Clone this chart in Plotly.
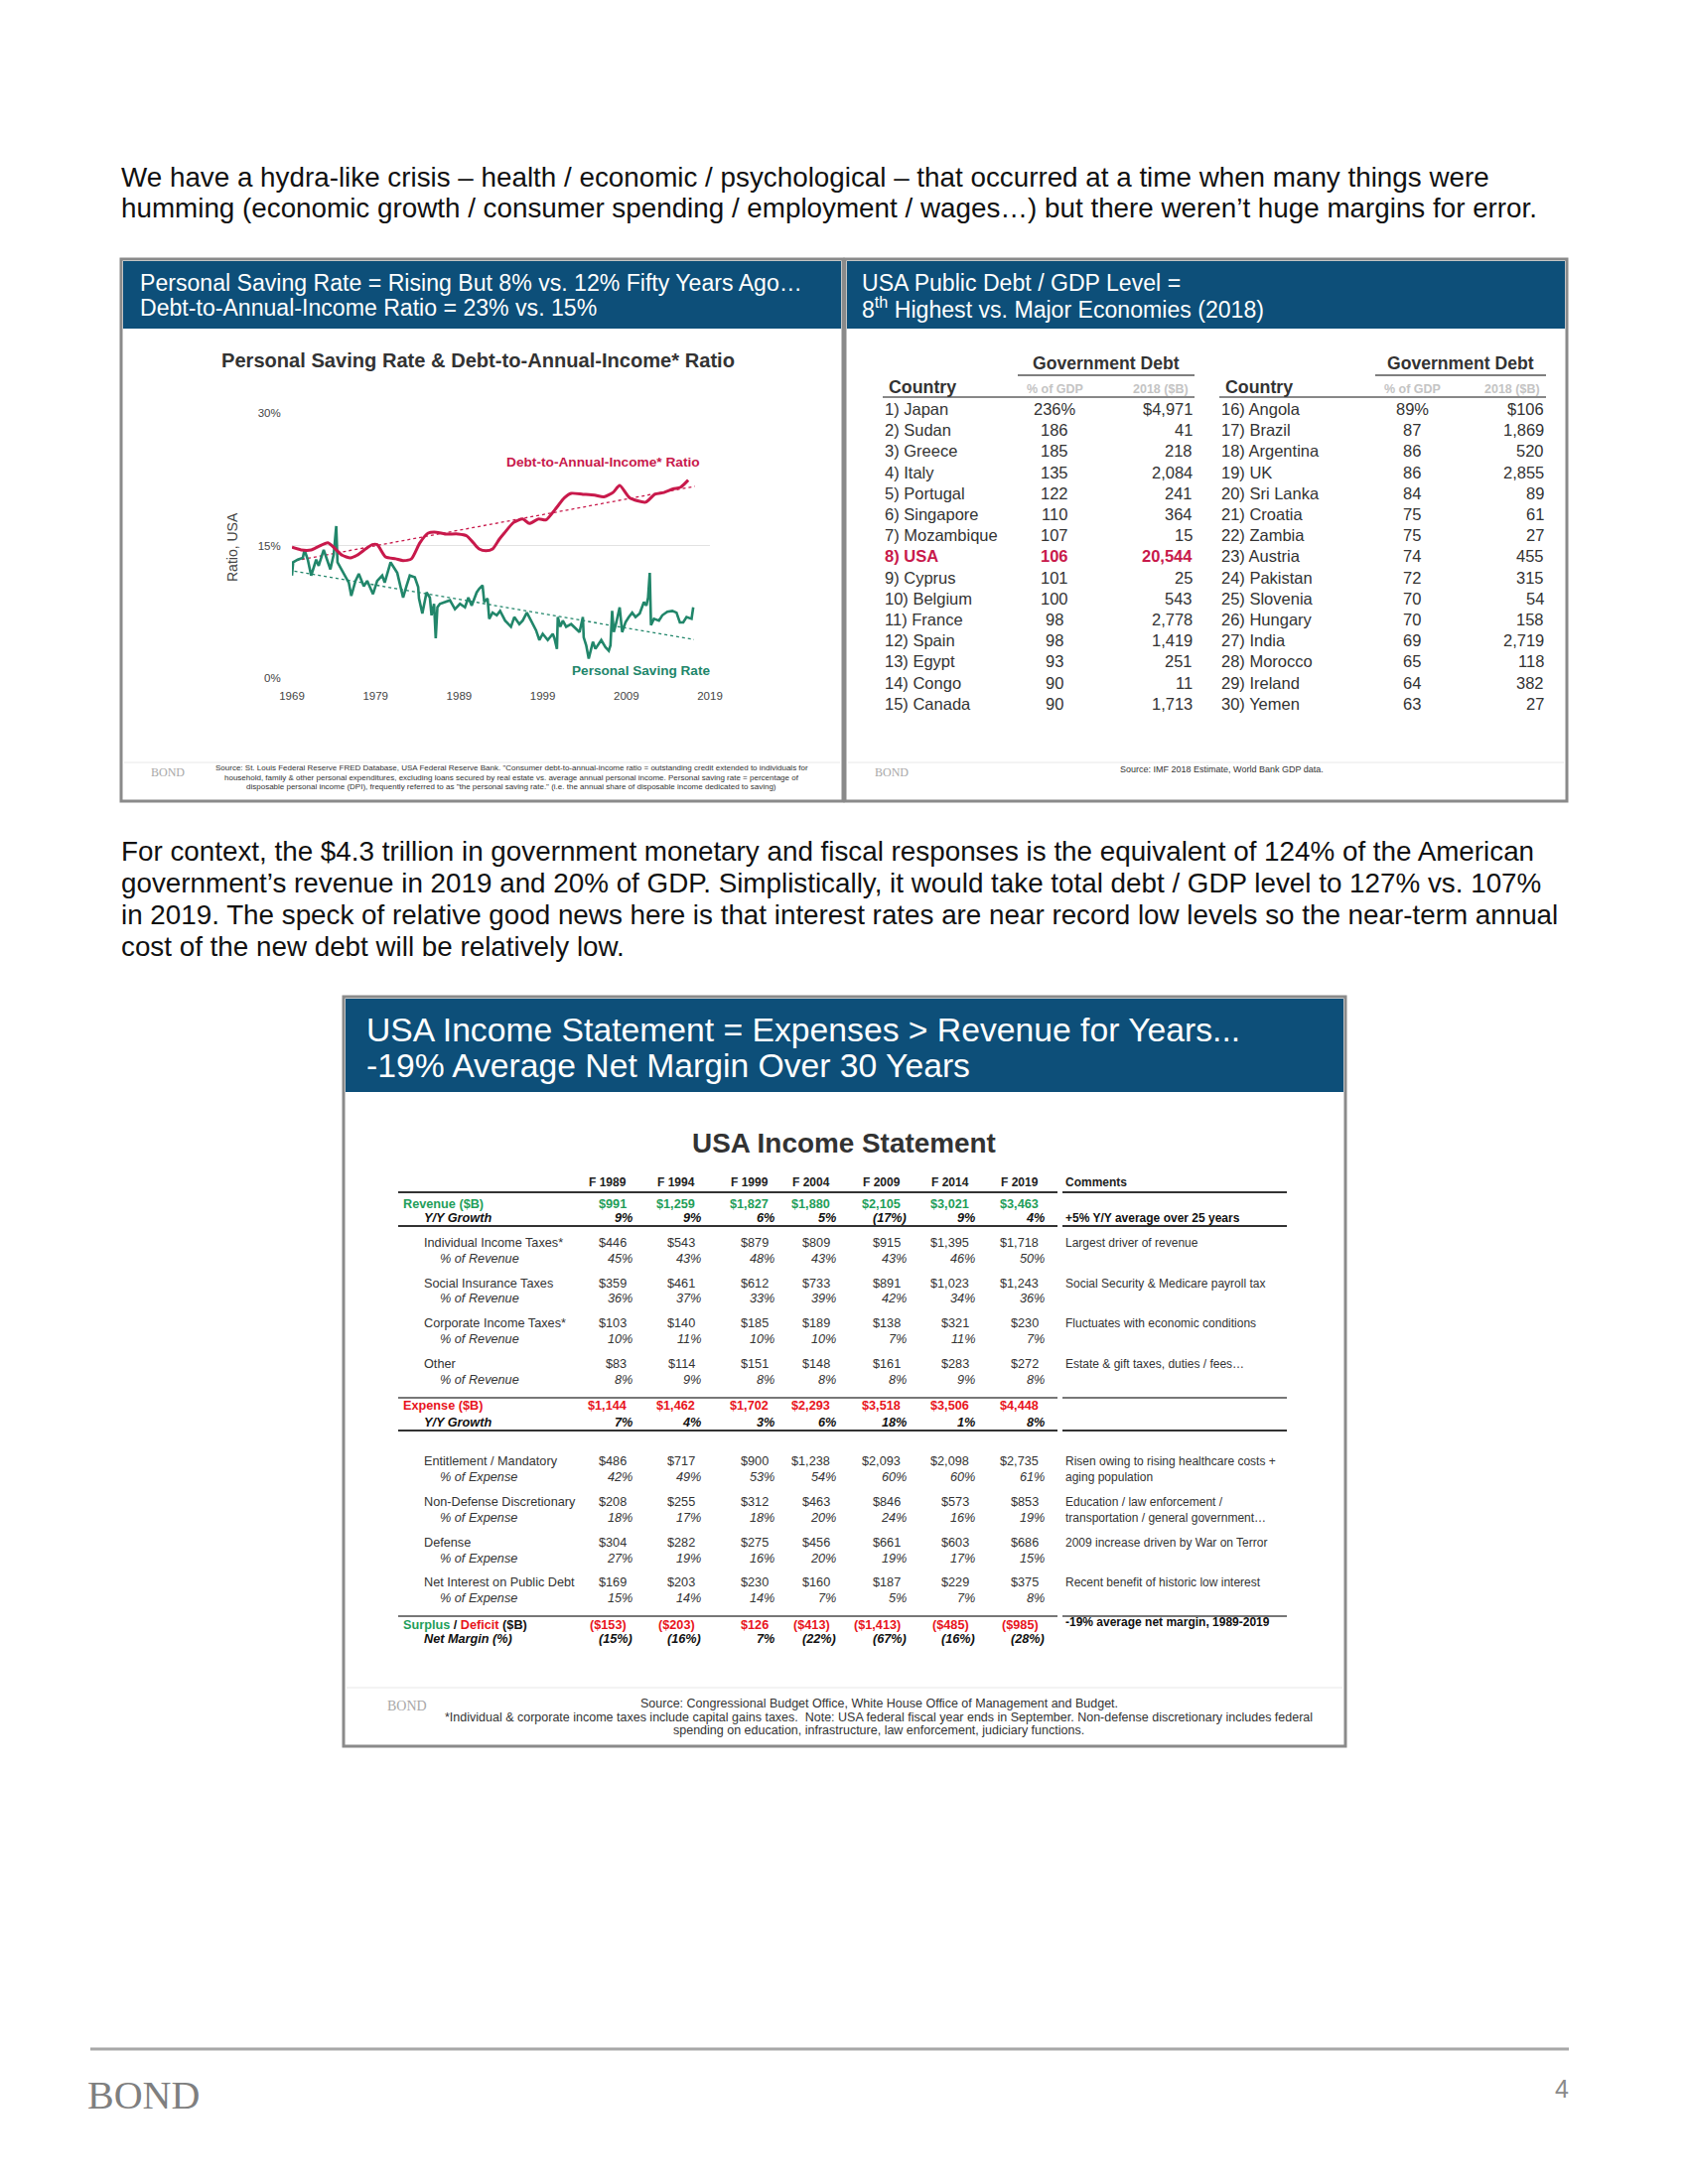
import plotly.graph_objects as go

W, H = 1700, 2200
PAGE_OFFSET = 8  # the page body margin shifts the whole figure by 8px
FONT = "Liberation Sans, Arial, sans-serif"
SERIF = "Liberation Serif, Times New Roman, serif"
BLUE = "#0d4f79"
GREEN = "#21866a"
CRIMSON = "#c8194b"
REV_GREEN = "#1f9e5a"
EXP_RED = "#e8141c"

# ---- Personal saving rate & debt-to-income (%) ----
saving_years = [1969.0, 1969.15, 1969.7, 1970.3, 1970.5, 1970.9, 1971.3, 1971.9, 1972.2, 1972.8,
                1973.2, 1973.6, 1974.0, 1974.3, 1974.45, 1974.8, 1975.2, 1975.8, 1976.1, 1976.6,
                1977.0, 1977.6, 1978.0, 1978.7, 1979.2, 1979.8, 1980.1, 1980.8, 1981.2, 1981.6,
                1982.0, 1982.3, 1982.7, 1983.1, 1983.7, 1984.1, 1984.2, 1984.6, 1985.1, 1985.5,
                1985.7, 1986.0, 1986.2, 1986.4, 1986.7, 1987.3, 1987.9, 1988.5, 1989.1, 1989.7,
                1990.1, 1990.5, 1991.1, 1991.4, 1991.8, 1992.0, 1992.4, 1992.6, 1993.0, 1993.5,
                1993.9, 1994.5, 1995.2, 1995.6, 1996.2, 1996.6, 1997.1, 1997.6, 1998.2, 1998.6,
                1999.0, 1999.6, 2000.2, 2000.4, 2000.7, 2000.8, 2001.1, 2001.4, 2001.8, 2002.4,
                2003.0, 2003.4, 2003.8, 2003.9, 2004.2, 2004.5, 2005.0, 2005.3, 2006.0, 2006.5,
                2006.9, 2007.1, 2007.3, 2007.5, 2007.8, 2008.2, 2008.5, 2008.9, 2009.3, 2009.7,
                2010.1, 2010.6, 2011.1, 2011.4, 2011.6, 2011.8, 2011.95, 2012.3, 2012.9, 2013.3,
                2013.9, 2014.5, 2015.0, 2015.4, 2015.8, 2016.2, 2016.8, 2017.0]
saving_rate = [11.6, 13.1, 13.4, 13.6, 14.5, 13.4, 11.6, 13.4, 12.7, 14.5,
               13.4, 12.3, 14.0, 17.2, 13.1, 12.5, 11.8, 10.8, 9.3, 11.0,
               11.8, 10.4, 11.0, 9.5, 11.0, 11.6, 10.8, 13.1, 12.5, 11.9,
               10.3, 9.1, 10.4, 11.6, 11.4, 10.3, 9.0, 7.3, 9.7, 9.1,
               7.1, 8.4, 4.5, 8.0, 8.4, 8.6, 8.8, 7.8, 8.4, 8.0,
               9.1, 8.2, 9.7, 10.1, 10.5, 8.6, 9.0, 6.7, 7.4, 7.1,
               7.6, 6.5, 5.8, 6.9, 6.1, 6.5, 7.4, 6.5, 5.4, 4.3,
               5.0, 4.3, 5.0, 4.5, 3.3, 6.9, 5.8, 6.5, 5.8, 6.1,
               5.6, 5.2, 6.9, 4.6, 3.7, 2.2, 4.1, 3.3, 4.3, 3.5,
               3.1, 3.7, 7.6, 5.2, 6.3, 8.0, 5.2, 6.3, 6.9, 7.4,
               6.9, 7.3, 8.6, 8.2, 9.1, 11.9, 6.0, 6.7, 6.5, 7.1,
               7.5, 7.6, 7.4, 6.3, 6.3, 6.9, 6.7, 8.0]
debt_years = [1969.0, 1970.1, 1971.3, 1972.2, 1973.3, 1974.2, 1975.0, 1976.0, 1976.8, 1977.8,
              1978.6, 1979.2, 1980.2, 1981.4, 1982.3, 1983.3, 1984.3, 1985.3, 1986.3, 1987.3,
              1988.9, 1989.9, 1990.7, 1991.4, 1992.2, 1993.0, 1993.8, 1994.4, 1995.5, 1996.6,
              1997.4, 1998.5, 1999.4, 2000.5, 2001.6, 2002.4, 2003.8, 2005.2, 2006.3, 2007.4,
              2008.2, 2009.4, 2011.3, 2012.4, 2013.5, 2014.6, 2015.5, 2016.4]
debt_ratio = [14.8, 14.5, 14.5, 14.9, 15.3, 14.6, 13.9, 13.6, 13.9, 14.6,
              15.1, 15.1, 13.7, 13.5, 13.3, 13.5, 15.3, 16.4, 16.5, 16.3,
              16.3, 16.1, 15.3, 14.6, 14.4, 14.6, 15.7, 16.4, 17.6, 18.0,
              17.5, 18.0, 17.9, 19.1, 20.4, 20.9, 20.8, 20.7, 20.5, 21.0,
              21.8, 20.4, 19.9, 20.8, 21.0, 21.4, 21.6, 22.4]
saving_trend_years = [1969.3, 2017.1]
saving_trend = [12.1, 4.35]
debt_trend_years = [1969.5, 2017.2]
debt_trend = [13.3, 21.7]
x_ticks = [1969, 1979, 1989, 1999, 2009, 2019]
y_ticks = [0, 15, 30]

# ---- Government debt table (2018) ----
countries_left = ["Japan", "Sudan", "Greece", "Italy", "Portugal", "Singapore", "Mozambique", "USA",
                  "Cyprus", "Belgium", "France", "Spain", "Egypt", "Congo", "Canada"]
pct_gdp_left = [236, 186, 185, 135, 122, 110, 107, 106, 101, 100, 98, 98, 93, 90, 90]
debt_bn_left = [4971, 41, 218, 2084, 241, 364, 15, 20544, 25, 543, 2778, 1419, 251, 11, 1713]
countries_right = ["Angola", "Brazil", "Argentina", "UK", "Sri Lanka", "Croatia", "Zambia", "Austria",
                   "Pakistan", "Slovenia", "Hungary", "India", "Morocco", "Ireland", "Yemen"]
pct_gdp_right = [89, 87, 86, 86, 84, 75, 75, 74, 72, 70, 70, 69, 65, 64, 63]
debt_bn_right = [106, 1869, 520, 2855, 89, 61, 27, 455, 315, 54, 158, 2719, 118, 382, 27]

# ---- USA income statement ($B) ----
fiscal_years = ["F 1989", "F 1994", "F 1999", "F 2004", "F 2009", "F 2014", "F 2019"]
revenue = [991, 1259, 1827, 1880, 2105, 3021, 3463]
revenue_growth = [9, 9, 6, 5, -17, 9, 4]
individual_tax = [446, 543, 879, 809, 915, 1395, 1718]
individual_pct = [45, 43, 48, 43, 43, 46, 50]
social_tax = [359, 461, 612, 733, 891, 1023, 1243]
social_pct = [36, 37, 33, 39, 42, 34, 36]
corporate_tax = [103, 140, 185, 189, 138, 321, 230]
corporate_pct = [10, 11, 10, 10, 7, 11, 7]
other_rev = [83, 114, 151, 148, 161, 283, 272]
other_pct = [8, 9, 8, 8, 8, 9, 8]
expense = [1144, 1462, 1702, 2293, 3518, 3506, 4448]
expense_growth = [7, 4, 3, 6, 18, 1, 8]
entitlement = [486, 717, 900, 1238, 2093, 2098, 2735]
entitlement_pct = [42, 49, 53, 54, 60, 60, 61]
nondefense = [208, 255, 312, 463, 846, 573, 853]
nondefense_pct = [18, 17, 18, 20, 24, 16, 19]
defense = [304, 282, 275, 456, 661, 603, 686]
defense_pct = [27, 19, 16, 20, 19, 17, 15]
net_interest = [169, 203, 230, 160, 187, 229, 375]
net_interest_pct = [15, 14, 14, 7, 5, 7, 8]
surplus = [-153, -203, 126, -413, -1413, -485, -985]
net_margin = [-15, -16, 7, -22, -67, -16, -28]


def px(x):
    return (x - PAGE_OFFSET) / W


def py(y):
    return 1 - (y - PAGE_OFFSET) / H


def money(v):
    s = "${:,}".format(abs(v))
    return "(" + s + ")" if v < 0 else s


def pct(v):
    s = "{}%".format(abs(v))
    return "(" + s + ")" if v < 0 else s


annotations = []
shapes = []


def txt(x, y, s, size, color="#222", anchor="left", family=FONT, angle=0):
    annotations.append(dict(x=px(x), y=py(y), xref="paper", yref="paper", text=s,
                            showarrow=False, xanchor=anchor, yanchor="middle",
                            textangle=angle, borderpad=0,
                            font=dict(size=size, color=color, family=family)))


def rect(x0, y0, x1, y1, fill=None, line=None, lw=0):
    shapes.append(dict(type="rect", xref="paper", yref="paper",
                       x0=px(x0), x1=px(x1), y0=py(y1), y1=py(y0),
                       fillcolor=fill if fill else "rgba(0,0,0,0)",
                       line=dict(color=line if line else "rgba(0,0,0,0)", width=lw), layer="below"))


def hline(x0, x1, y, color, lw):
    shapes.append(dict(type="line", xref="paper", yref="paper",
                       x0=px(x0), x1=px(x1), y0=py(y), y1=py(y),
                       line=dict(color=color, width=lw)))


# ---- page text ----
para1 = ["We have a hydra-like crisis – health / economic / psychological – that occurred at a time when many things were",
         "humming (economic growth / consumer spending / employment / wages…) but there weren’t huge margins for error."]
for i, line in enumerate(para1):
    txt(121, 178 + i * 32, line, 27.8, "#111")

para2 = ["For context, the $4.3 trillion in government monetary and fiscal responses is the equivalent of 124% of the American",
         "government’s revenue in 2019 and 20% of GDP. Simplistically, it would take total debt / GDP level to 127% vs. 107%",
         "in 2019. The speck of relative good news here is that interest rates are near record low levels so the near-term annual",
         "cost of the new debt will be relatively low."]
for i, line in enumerate(para2):
    txt(121, 857 + i * 32.3, line, 27.8, "#111")

# ---- panels ----
for (x0, x1) in [(122, 849), (851, 1578)]:
    rect(x0, 261, x1, 807, fill="white", line="#8a8a8a", lw=3)
    rect(x0 + 2, 263, x1 - 2, 331, fill=BLUE)
    hline(x0 + 3, x1 - 3, 768, "#e8e8e8", 1)
    txt(x0 + 47, 778, "BOND", 12, "#a8a8a8", "center", SERIF)

rect(346, 1004, 1355, 1759, fill="white", line="#8a8a8a", lw=3)
rect(348, 1006, 1353, 1100, fill=BLUE)
hline(349, 1352, 1700, "#e8e8e8", 1)
txt(410, 1718, "BOND", 14, "#a8a8a8", "center", SERIF)

txt(140, 285, "Personal Saving Rate = Rising But 8% vs. 12% Fifty Years Ago…", 23.1, "white")
txt(140, 310, "Debt-to-Annual-Income Ratio = 23% vs. 15%", 23.1, "white")
txt(867, 285, "USA Public Debt / GDP Level =", 23.1, "white")
txt(867, 310, "8<sup>th</sup> Highest vs. Major Economies (2018)", 23.1, "white")
txt(368, 1037, "USA Income Statement = Expenses &gt; Revenue for Years...", 33.7, "white")
txt(368, 1073, "-19% Average Net Margin Over 30 Years", 33.7, "white")

# ---- line chart ----
txt(481, 363, "<b>Personal Saving Rate &amp; Debt-to-Annual-Income* Ratio</b>", 20.1, "#333", "center")
txt(234, 551, "Ratio, USA", 14, "#444", "center", angle=-90)
txt(607, 465, "<b>Debt-to-Annual-Income* Ratio</b>", 13.7, CRIMSON, "center")
txt(716, 675, "<b>Personal Saving Rate</b>", 13.6, GREEN, "right")

src_left = ["Source: St. Louis Federal Reserve FRED Database, USA Federal Reserve Bank. \"Consumer debt-to-annual-income ratio = outstanding credit extended to individuals for",
            "household, family &amp; other personal expenditures, excluding loans secured by real estate vs. average annual personal income. Personal saving rate = percentage of",
            "disposable personal income (DPI), frequently referred to as \"the personal saving rate.\" (i.e. the annual share of disposable income dedicated to saving)"]
for i, line in enumerate(src_left):
    txt(515, 774 + i * 9.2, line, 8, "#333", "center")

fig = go.Figure()
fig.add_trace(go.Scatter(x=debt_trend_years, y=debt_trend, mode="lines",
                         line=dict(color=CRIMSON, width=1.3, dash="dot"), hoverinfo="skip"))
fig.add_trace(go.Scatter(x=saving_trend_years, y=saving_trend, mode="lines",
                         line=dict(color=GREEN, width=1.3, dash="dot"), hoverinfo="skip"))
fig.add_trace(go.Scatter(x=saving_years, y=saving_rate, mode="lines",
                         line=dict(color=GREEN, width=2.6)))
fig.add_trace(go.Scatter(x=debt_years, y=debt_ratio, mode="lines",
                         line=dict(color=CRIMSON, width=3, shape="spline", smoothing=0.6)))

# ---- debt table ----
RS = 16.5
blocks = [
    (countries_left, pct_gdp_left, debt_bn_left, 1, 890, 1062, 1202, 1114, 1025, 894),
    (countries_right, pct_gdp_right, debt_bn_right, 16, 1229, 1422, 1556, 1471, 1385, 1233),
]
for names, pcts, debts, start, xn, xp, xd, xg, xl, xc in blocks:
    txt(xg, 366, "<b>Government Debt</b>", 17.6, "#333", "center")
    hline(xl, xd + 1, 378, "#555", 1.5)
    txt(xc, 390, "<b>Country</b>", 17.8, "#333")
    txt(xp, 392, "<b>% of GDP</b>", 12.5, "#c4c4c4", "center")
    txt(xd - 4, 392, "<b>2018 ($B)</b>", 12.5, "#c4c4c4", "right")
    hline(xn - 1, xd + 1, 400, "#888", 2)
    for i, (n, p, d) in enumerate(zip(names, pcts, debts)):
        y = 412 + i * 21.2
        ptxt = "{}%".format(p) if i == 0 else str(p)
        dtxt = "${:,}".format(d) if i == 0 else "{:,}".format(d)
        label = "{}) {}".format(start + i, n)
        if n == "USA":
            txt(xn, y, "<b>" + label + "</b>", RS, CRIMSON)
            txt(xp, y, "<b>" + ptxt + "</b>", RS, CRIMSON, "center")
            txt(xd, y, "<b>" + dtxt + "</b>", RS, CRIMSON, "right")
        else:
            txt(xn, y, label, RS, "#333")
            txt(xp, y, ptxt, RS, "#333", "center")
            txt(xd, y, dtxt, RS, "#333", "right")

txt(1230, 775, "Source: IMF 2018 Estimate, World Bank GDP data.", 9, "#333", "center")

# ---- income statement ----
txt(850, 1151, "<b>USA Income Statement</b>", 27.9, "#333", "center")
col_right = [632, 701, 775, 837, 908, 977, 1047]
PCT_SHIFT = 6
X_LABEL, X_SUB, X_SUBSUB, X_COMM = 405, 426, 442, 1072
TS = 12.7
CS = 12

for c, fy in zip(col_right, fiscal_years):
    txt(c, 1191, "<b>" + fy + "</b>", 12, "#222", "right")
txt(X_COMM, 1191, "<b>Comments</b>", 12, "#222")

for y, col in [(1201, "#333"), (1235, "#333"), (1408, "#777"), (1441, "#333"), (1628, "#777")]:
    hline(401, 1065, y, col, 2)
    hline(1070, 1296, y, col, 2)

# revenue block
txt(X_LABEL, 1213, "<b>Revenue ($B)</b>", TS, REV_GREEN)
txt(X_SUB, 1227, "<b><i>Y/Y Growth</i></b>", TS, "#111")
for c, v, g in zip(col_right, revenue, revenue_growth):
    txt(c, 1213, "<b>" + money(v) + "</b>", TS, REV_GREEN, "right")
    txt(c + PCT_SHIFT, 1227, "<b><i>" + pct(g) + "</i></b>", TS, "#111", "right")
txt(X_COMM, 1227, "<b>+5% Y/Y average over 25 years</b>", CS, "#111")

rev_items = [("Individual Income Taxes*", individual_tax, individual_pct, ["Largest driver of revenue"]),
             ("Social Insurance Taxes", social_tax, social_pct, ["Social Security &amp; Medicare payroll tax"]),
             ("Corporate Income Taxes*", corporate_tax, corporate_pct, ["Fluctuates with economic conditions"]),
             ("Other", other_rev, other_pct, ["Estate &amp; gift taxes, duties / fees…"])]
for k, (name, vals, pcts, comm) in enumerate(rev_items):
    y = 1252 + k * 40.7
    txt(X_SUB, y, name, TS, "#333")
    txt(X_SUBSUB, y + 15.5, "<i>% of Revenue</i>", TS, "#333")
    for c, v, p in zip(col_right, vals, pcts):
        txt(c, y, money(v), TS, "#333", "right")
        txt(c + PCT_SHIFT, y + 15.5, "<i>" + pct(p) + "</i>", TS, "#333", "right")
    for j, cl in enumerate(comm):
        txt(X_COMM, y + j * 15.5, cl, CS, "#333")

# expense block
txt(X_LABEL, 1416, "<b>Expense ($B)</b>", TS, EXP_RED)
txt(X_SUB, 1433, "<b><i>Y/Y Growth</i></b>", TS, "#111")
for c, v, g in zip(col_right, expense, expense_growth):
    txt(c, 1416, "<b>" + money(v) + "</b>", TS, EXP_RED, "right")
    txt(c + PCT_SHIFT, 1433, "<b><i>" + pct(g) + "</i></b>", TS, "#111", "right")

exp_items = [("Entitlement / Mandatory", entitlement, entitlement_pct,
              ["Risen owing to rising healthcare costs +", "aging population"]),
             ("Non-Defense Discretionary", nondefense, nondefense_pct,
              ["Education / law enforcement /", "transportation / general government…"]),
             ("Defense", defense, defense_pct, ["2009 increase driven by War on Terror"]),
             ("Net Interest on Public Debt", net_interest, net_interest_pct,
              ["Recent benefit of historic low interest"])]
for k, (name, vals, pcts, comm) in enumerate(exp_items):
    y = 1472 + k * 40.8
    txt(X_SUB, y, name, TS, "#333")
    txt(X_SUBSUB, y + 16, "<i>% of Expense</i>", TS, "#333")
    for c, v, p in zip(col_right, vals, pcts):
        txt(c, y, money(v), TS, "#333", "right")
        txt(c + PCT_SHIFT, y + 16, "<i>" + pct(p) + "</i>", TS, "#333", "right")
    for j, cl in enumerate(comm):
        txt(X_COMM, y + j * 16, cl, CS, "#333")

# surplus / deficit
txt(X_LABEL, 1637, "<b><span style='color:%s'>Surplus</span> / <span style='color:%s'>Deficit</span> ($B)</b>"
    % (REV_GREEN, EXP_RED), TS, "#111")
txt(X_SUB, 1651, "<b><i>Net Margin (%)</i></b>", TS, "#111")
for c, v, m in zip(col_right, surplus, net_margin):
    txt(c, 1637, "<b>" + money(v) + "</b>", TS, EXP_RED, "right")
    txt(c + PCT_SHIFT, 1651, "<b><i>" + pct(m) + "</i></b>", TS, "#111", "right")
txt(X_COMM, 1634, "<b>-19% average net margin, 1989-2019</b>", CS, "#111")

txt(885, 1716, "Source: Congressional Budget Office, White House Office of Management and Budget.", 12.5, "#333", "center")
txt(885, 1730, "*Individual &amp; corporate income taxes include capital gains taxes.  Note: USA federal fiscal year ends in September. Non-defense discretionary includes federal", 12.5, "#333", "center")
txt(885, 1743, "spending on education, infrastructure, law enforcement, judiciary functions.", 12.5, "#333", "center")

# ---- page footer ----
hline(91, 1580, 2064, "#a8a8a8", 3)
txt(144, 2110, "BOND", 40, "#7f7f7f", "center", SERIF)
txt(1573, 2104, "4", 25, "#8a8a8a", "center")

fig.update_layout(
    width=W, height=H, margin=dict(l=0, r=0, t=0, b=0, pad=0, autoexpand=False),
    paper_bgcolor="white", plot_bgcolor="rgba(0,0,0,0)",
    showlegend=False, font=dict(family=FONT, color="#333"),
    annotations=annotations, shapes=shapes,
    xaxis=dict(domain=[px(294), px(715)], range=[1969, 2019], tickvals=x_ticks,
               showgrid=False, zeroline=False, showline=False, automargin=False,
               ticks="outside", ticklen=7, tickcolor="rgba(0,0,0,0)",
               tickfont=dict(size=11.5, color="#444")),
    yaxis=dict(domain=[py(683), py(416)], range=[0, 30], tickvals=y_ticks,
               ticktext=["{}%".format(v) for v in y_ticks], automargin=False,
               showgrid=True, gridcolor="#e2e2e2", gridwidth=1, zeroline=False, showline=False,
               ticks="outside", ticklen=8, tickcolor="rgba(0,0,0,0)",
               tickfont=dict(size=11.5, color="#444")),
)

fig.write_html("out.html")
